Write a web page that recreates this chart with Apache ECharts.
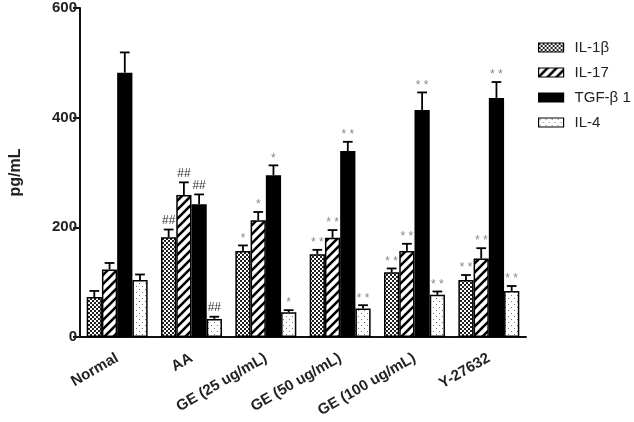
<!DOCTYPE html>
<html>
<head>
<meta charset="utf-8">
<script src="https://cdn.jsdelivr.net/npm/echarts@6/dist/echarts.min.js"></script>
<style>html,body{margin:0;padding:0;background:#fff}#c{width:634px;height:422px}</style>
</head>
<body>
<div id="c"></div>
<script>
var categories = ['Normal', 'AA', 'GE (25 ug/mL)', 'GE (50 ug/mL)', 'GE (100 ug/mL)', 'Y-27632'];
var seriesNames = ['IL-1\u03b2', 'IL-17', 'TGF-\u03b2 1', 'IL-4'];
var il1b = [73, 182, 157, 151, 118, 104];
var il1bErr = [11, 14, 10, 8, 7, 9];
var il17 = [123, 259, 213, 181, 157, 143];
var il17Err = [12, 23, 15, 14, 13, 19];
var tgf = [482, 242, 295, 339, 414, 436];
var tgfErr = [37, 18, 18, 17, 32, 29];
var il4 = [104, 33, 45, 52, 77, 84];
var il4Err = [10, 4, 4, 6, 6, 9];
var sigMarks = ['', '##', '*', '**', '**', '**'];
var yTicks = [0, 200, 400, 600];

function makeCanvas(w, h, draw) {
  var c = document.createElement('canvas');
  c.width = w; c.height = h;
  var ctx = c.getContext('2d');
  ctx.fillStyle = '#fff'; ctx.fillRect(0, 0, w, h);
  draw(ctx, w, h);
  return c;
}
var checker = makeCanvas(4, 4, function (ctx) {
  ctx.fillStyle = '#222';
  ctx.fillRect(0, 0, 2, 2); ctx.fillRect(2, 2, 2, 2);
});
var stripes = makeCanvas(9, 9, function (ctx, w) {
  ctx.strokeStyle = '#000'; ctx.lineWidth = 2.6;
  [[0, w, w, 0], [-w, w, w, -w], [0, 2 * w, 2 * w, 0]].forEach(function (l) {
    ctx.beginPath(); ctx.moveTo(l[0], l[1]); ctx.lineTo(l[2], l[3]); ctx.stroke();
  });
});
var dots = makeCanvas(6, 6, function (ctx) {
  ctx.fillStyle = '#777';
  ctx.fillRect(1, 1, 1, 1); ctx.fillRect(4, 4, 1, 1);
});
var fills = [
  { image: checker, repeat: 'repeat' },
  { image: stripes, repeat: 'repeat' },
  '#000',
  { image: dots, repeat: 'repeat' }
];
var values = [il1b, il17, tgf, il4];
var errors = [il1bErr, il17Err, tgfErr, il4Err];
var gapFrac = 0.18;

var series = [];
values.forEach(function (vals, k) {
  series.push({
    name: seriesNames[k], type: 'bar', data: vals,
    barGap: '0%', barCategoryGap: (gapFrac * 100) + '%',
    itemStyle: { color: fills[k], borderColor: '#000', borderWidth: 1.5 },
    emphasis: { disabled: true }, animation: false
  });
});
values.forEach(function (vals, k) {
  series.push({
    type: 'custom', silent: true, animation: false, z: 5, clip: false,
    data: vals.map(function (v, i) { return [i, v, errors[k][i]]; }),
    renderItem: function (params, api) {
      var ci = api.value(0), v = api.value(1), e = api.value(2);
      var base = api.coord([ci, v]);
      var top = api.coord([ci, v + e]);
      var band = api.size([1, 0])[0];
      var bw = band * (1 - gapFrac) / 4;
      var x = base[0] + (k - 1.5) * bw;
      var cap = bw * 0.32;
      var mark = sigMarks[ci];
      var children = [
        { type: 'line', shape: { x1: x, y1: base[1], x2: x, y2: top[1] }, style: { stroke: '#000', lineWidth: 1.8 } },
        { type: 'line', shape: { x1: x - cap, y1: top[1], x2: x + cap, y2: top[1] }, style: { stroke: '#000', lineWidth: 1.8 } }
      ];
      if (mark) {
        var isHash = mark.charAt(0) === '#';
        children.push({
          type: 'text',
          style: {
            x: x, y: top[1] - (isHash ? 3 : 1), text: isHash ? mark : mark.split('').join(' '),
            align: 'center', verticalAlign: 'bottom',
            fill: isHash ? '#333' : '#888',
            font: (isHash ? '12px' : '12px') + ' "Liberation Sans", Arial, sans-serif'
          }
        });
      }
      return { type: 'group', children: children };
    }
  });
});

var chart = echarts.init(document.getElementById('c'), null, { renderer: 'canvas' });
chart.setOption({
  backgroundColor: '#fff',
  animation: false,
  textStyle: { fontFamily: '"Liberation Sans", Arial, sans-serif' },
  grid: { left: 80, right: 108, top: 8, bottom: 85, containLabel: false },
  legend: {
    data: seriesNames, orient: 'vertical', left: 533, top: 35,
    itemWidth: 25, itemHeight: 9, itemGap: 10, icon: 'rect',
    textStyle: { fontSize: 15, color: '#222', padding: [0, 0, 0, 6] },
    itemStyle: { borderColor: '#000', borderWidth: 1.2 },
    selectedMode: false
  },
  xAxis: {
    type: 'category', data: categories,
    axisLine: { lineStyle: { color: '#111', width: 2 } },
    axisTick: { alignWithLabel: true, length: 6, lineStyle: { color: '#111', width: 2 } },
    axisLabel: { rotate: 30, fontSize: 15, fontWeight: 'bold', color: '#222', margin: 20, interval: 0 }
  },
  yAxis: {
    type: 'value', min: 0, max: 600, interval: 200,
    name: 'pg/mL', nameLocation: 'middle', nameGap: 56, nameRotate: 90,
    nameTextStyle: { fontSize: 16, fontWeight: 'bold', color: '#222' },
    axisLine: { show: true, lineStyle: { color: '#111', width: 2 } },
    axisTick: { show: true, length: 7, lineStyle: { color: '#111', width: 2 } },
    axisLabel: { fontSize: 15, fontWeight: 'bold', color: '#222', margin: 3,
      formatter: function (v) { return yTicks.indexOf(v) >= 0 ? String(v) : ''; } },
    splitLine: { show: false }
  },
  series: series
});
</script>
</body>
</html>
